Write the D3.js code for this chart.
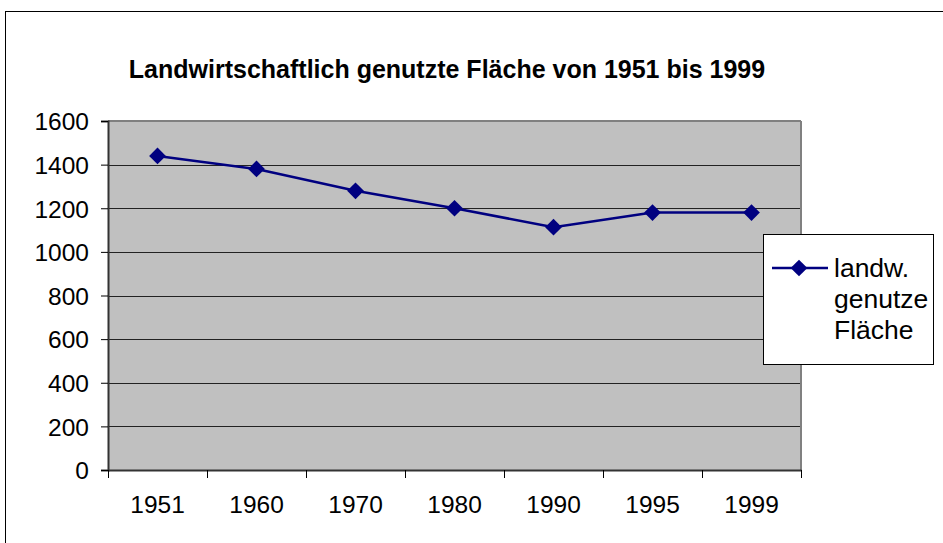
<!DOCTYPE html>
<html><head><meta charset="utf-8">
<script src="https://cdn.jsdelivr.net/npm/d3@7"></script>
<style>body{margin:0;background:#fff}svg{display:block}text{font-family:"Liberation Sans",Arial,sans-serif}</style>
</head><body>
<svg id="c" width="943" height="543"></svg>
<script>
const categories = ["1951","1960","1970","1980","1990","1995","1999"];
const values = [1440, 1380, 1280, 1200, 1113, 1180, 1180];
const yTicks = [0,200,400,600,800,1000,1200,1400,1600];
const title = "Landwirtschaftlich genutzte Fläche von 1951 bis 1999";
const legendLines = ["landw.","genutze","Fläche"];

const svg = d3.select("#c");
const L=108, R=801, T=121, B=470;
svg.append("rect").attr("x",5.5).attr("y",11.5).attr("width",960).attr("height",560)
  .attr("fill","#fff").attr("stroke","#000").attr("stroke-width",1);

const x = d3.scaleBand().domain(categories).range([L,R]);
const y = d3.scaleLinear().domain([0,1600]).range([B,T]);

svg.append("rect").attr("x",L).attr("y",T).attr("width",R-L).attr("height",B-T).attr("fill","#c0c0c0");
svg.append("g").selectAll("line").data(yTicks.filter(d=>d>0)).join("line")
  .attr("x1",L).attr("x2",R).attr("y1",d=>Math.round(y(d))+0.5).attr("y2",d=>Math.round(y(d))+0.5)
  .attr("stroke","#222").attr("stroke-width",1);
svg.append("line").attr("x1",L).attr("x2",R).attr("y1",T).attr("y2",T).attr("stroke","#808080").attr("stroke-width",2);
svg.append("line").attr("x1",R).attr("x2",R).attr("y1",T).attr("y2",B).attr("stroke","#808080").attr("stroke-width",2);

const ya = svg.append("g").attr("transform",`translate(${L},0)`)
  .call(d3.axisLeft(y).tickValues(yTicks).tickSize(7).tickPadding(12).tickFormat(d3.format("d")));
ya.select(".domain").attr("stroke","#333").attr("stroke-width",2);
ya.selectAll(".tick line").attr("stroke","#000");
ya.selectAll("text").attr("font-size",24.5).attr("fill","#000").attr("font-family","Liberation Sans, Arial, sans-serif").attr("dy","0.36em");

const xa = svg.append("g").attr("transform",`translate(0,${B})`)
  .call(d3.axisBottom(x).tickSize(0).tickPadding(26));
xa.select(".domain").attr("stroke","#333").attr("stroke-width",2);
xa.selectAll("text").attr("font-size",24.5).attr("fill","#000").attr("font-family","Liberation Sans, Arial, sans-serif");
svg.append("g").selectAll("line").data(categories.concat(["end"])).join("line")
  .attr("x1",(d,i)=>Math.round(L+i*x.step())+0.5).attr("x2",(d,i)=>Math.round(L+i*x.step())+0.5)
  .attr("y1",B).attr("y2",B+8).attr("stroke","#000");

const cx = d=>x(d)+x.bandwidth()/2;
svg.append("path").datum(values.map((v,i)=>[cx(categories[i]),y(v)]))
  .attr("d",d3.line()).attr("fill","none").attr("stroke","#000080").attr("stroke-width",2.5);
svg.append("g").selectAll("path").data(values).join("path")
  .attr("transform",(v,i)=>`translate(${cx(categories[i])},${y(v)}) rotate(45)`)
  .attr("d",d3.symbol().type(d3.symbolSquare).size(140)).attr("fill","#000080");

svg.append("text").attr("x",447).attr("y",78).attr("text-anchor","middle")
  .attr("font-size",25).attr("font-weight","bold").text(title);

svg.append("rect").attr("x",763.5).attr("y",234.5).attr("width",170).attr("height",130)
  .attr("fill","#fff").attr("stroke","#000");
svg.append("line").attr("x1",772).attr("x2",828).attr("y1",268).attr("y2",268).attr("stroke","#000080").attr("stroke-width",2.5);
svg.append("path").attr("transform","translate(799,268) rotate(45)")
  .attr("d",d3.symbol().type(d3.symbolSquare).size(140)).attr("fill","#000080");
svg.append("g").selectAll("text").data(legendLines).join("text")
  .attr("x",834).attr("y",(d,i)=>277+i*31).attr("font-size",26.5).attr("fill","#000").text(d=>d);
</script>
</body></html>
